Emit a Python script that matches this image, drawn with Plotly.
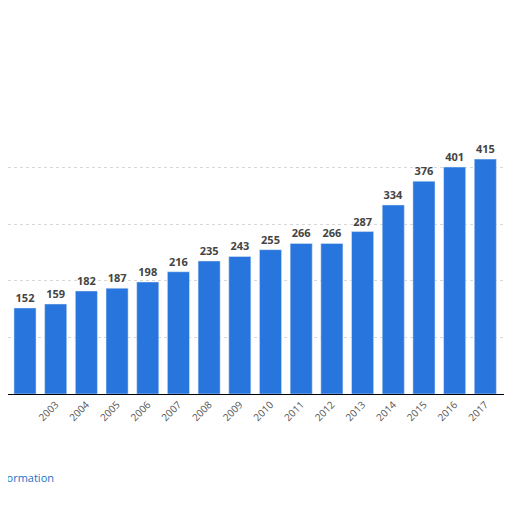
import plotly.graph_objects as go

years = list(range(2001, 2019))
values = [142, 152, 159, 182, 187, 198, 216, 235, 243, 255, 266, 266, 287, 334, 376, 401, 415, 435]

fig = go.Figure()
fig.add_trace(go.Bar(x=years, y=values, width=0.72, marker_color='#2876dd',
                     text=values, textposition='outside', cliponaxis=False,
                     texttemplate='<b>%{text}</b>',
                     textfont=dict(color='#444444', size=11, family='Open Sans')))

fig.update_layout(width=512, height=512, margin=dict(l=0, r=0, t=0, b=126),
                  plot_bgcolor='white', paper_bgcolor='white', showlegend=False,
                  bargap=0.28)
fig.update_xaxes(range=[2001.446, 2018.13], tickmode='array', tickvals=years,
                 ticktext=[str(y) for y in years], tickangle=-45, automargin=False,
                 tickfont=dict(color='#555555', size=10, family='Open Sans'),
                 showline=True, linecolor='black', linewidth=1, showgrid=False)
fig.update_yaxes(range=[0, 682], tickvals=[100, 200, 300, 400], showticklabels=False,
                 automargin=False,
                 showgrid=True, gridcolor='#d8d8d8', griddash='dot', zeroline=False)

fig.add_annotation(x=-0.14, y=-0.24, xref='paper', yref='paper', xanchor='left',
                   text='Additional Information', showarrow=False,
                   font=dict(color='#1a73c9', size=11, family='Open Sans'))
fig.add_annotation(x=0.985, y=-0.18, xref='paper', yref='paper', xanchor='left',
                   text='© Statista', showarrow=False,
                   font=dict(color='#1a73c9', size=11, family='Open Sans'))

fig.write_html("out.html")
